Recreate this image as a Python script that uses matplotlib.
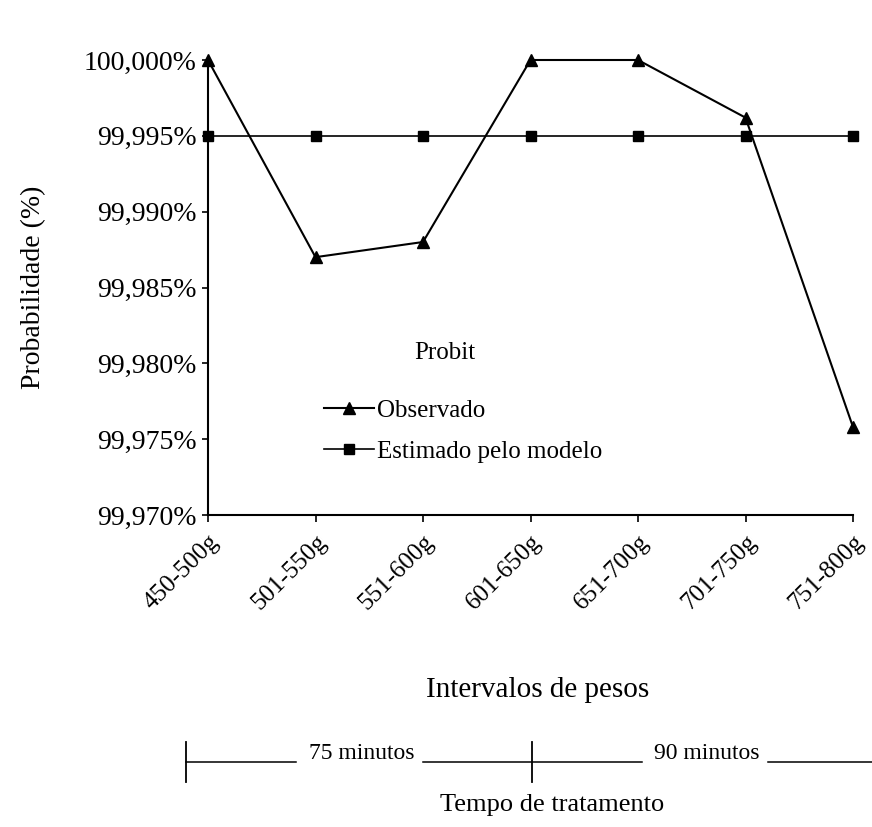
import matplotlib
matplotlib.use("Agg")
import matplotlib.pyplot as plt
from matplotlib.lines import Line2D
from matplotlib.ticker import FuncFormatter

# Weight classes and probabilities (%)
categorias = ["450-500g", "501-550g", "551-600g", "601-650g",
              "651-700g", "701-750g", "751-800g"]
observado = [100.000, 99.987, 99.988, 100.000, 100.000, 99.9962, 99.9758]
estimado = [99.995, 99.995, 99.995, 99.995, 99.995, 99.995, 99.995]
y_ticks = [99.970, 99.975, 99.980, 99.985, 99.990, 99.995, 100.000]

plt.rcParams["font.family"] = ["Liberation Serif", "DejaVu Serif"]

W, H = 872, 827
fig = plt.figure(figsize=(W / 100, H / 100), dpi=100)
ax = fig.add_axes([208 / W, 1 - 515 / H, 645 / W, 455 / H])

x = list(range(len(categorias)))
ax.plot(x, observado, color="black", lw=1.5, marker="^", ms=9,
        label="Observado", clip_on=False)
ax.plot(x, estimado, color="black", lw=1.2, marker="s", ms=7.5,
        label="Estimado pelo modelo", clip_on=False)

ax.set_xlim(0, len(categorias) - 1)
ax.set_ylim(99.970, 100.000)
ax.set_yticks(y_ticks)
ax.yaxis.set_major_formatter(
    FuncFormatter(lambda v, p: f"{v:.3f}%".replace(".", ",")))
ax.set_xticks(x)
ax.set_xticklabels(categorias, rotation=45, ha="right",
                   rotation_mode="anchor", fontsize=18)
ax.tick_params(axis="y", labelsize=20, direction="out", length=4,
               width=1.2, pad=4)
ax.tick_params(axis="x", direction="out", length=5, width=1.2, pad=6)

for s in ["top", "right"]:
    ax.spines[s].set_visible(False)
ax.spines["left"].set_linewidth(1.5)
ax.spines["bottom"].set_linewidth(1.5)

ax.set_ylabel("Probabilidade (%)", fontsize=20)
ax.yaxis.set_label_coords((46 - 208) / 645, 0.5)

# legend (title drawn separately)
fig.text(445 / W, 1 - 353 / H, "Probit", ha="center", va="center",
         fontsize=18)
ax.legend(loc="upper left", bbox_to_anchor=(324 / W, 1 - 399 / H),
          bbox_transform=fig.transFigure, frameon=False, fontsize=18,
          handlelength=2.0, handletextpad=0.1, labelspacing=0.75,
          borderpad=0, borderaxespad=0)

fig.text(538 / W, 1 - 690 / H, "Intervalos de pesos",
         ha="center", va="center", fontsize=21)

# treatment time bracket
yb = 1 - 762 / H
for a, b in [(186, 296), (423, 642), (768, 872)]:
    fig.add_artist(Line2D([a / W, b / W], [yb, yb], color="black", lw=1.1))
for xv in (186, 532):
    fig.add_artist(Line2D([xv / W, xv / W], [1 - 742 / H, 1 - 782 / H],
                          color="black", lw=1.3))
fig.text(362 / W, 1 - 759 / H, "75 minutos", ha="center", va="baseline",
         fontsize=17)
fig.text(707 / W, 1 - 759 / H, "90 minutos", ha="center", va="baseline",
         fontsize=17)
fig.text(552 / W, 1 - 805 / H, "Tempo de tratamento",
         ha="center", va="center", fontsize=19)

fig.savefig("out.png", dpi=100)
